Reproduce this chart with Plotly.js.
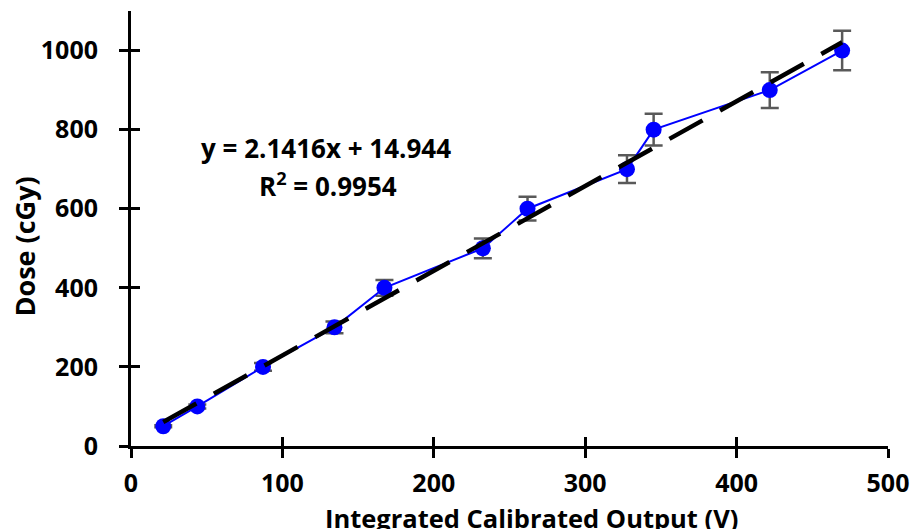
<!DOCTYPE html>
<html>
<head>
<meta charset="utf-8">
<script src="https://cdn.plot.ly/plotly-3.0.1.min.js"></script>
<style>html,body{margin:0;padding:0;background:#fff;}#chart{width:916px;height:529px;}</style>
</head>
<body>
<div id="chart"></div>
<script>
// Data
const outputV = [21.3, 43.8, 87.2, 134.4, 167.4, 232.4, 261.9, 327.6, 345.2, 421.9, 469.7];
const doseCGy = [50, 100, 200, 300, 400, 500, 600, 700, 800, 900, 1000];
const doseErr = [2.5, 5, 10, 15, 20, 25, 30, 35, 40, 45, 50];
const fitSlope = 2.1416;
const fitIntercept = 14.944;
const fitR2 = 0.9954;
const xTicks = [0, 100, 200, 300, 400, 500];
const yTicks = [0, 200, 400, 600, 800, 1000];
const xTitle = 'Integrated Calibrated Output (V)';
const yTitle = 'Dose (cGy)';

const fitX = [outputV[0], outputV[outputV.length - 1]];
const fitY = fitX.map(v => fitSlope * v + fitIntercept);

const FONT = '"Open Sans", "DejaVu Sans", sans-serif';

const data = [
  {x: [null], y: [null], xaxis: 'x2', yaxis: 'y2', showlegend: false, hoverinfo: 'skip', type: 'scatter', mode: 'markers'},
  {
    x: outputV, y: doseCGy, type: 'scatter', mode: 'lines+markers',
    line: {color: '#0000FF', width: 2},
    marker: {color: '#0000FF', size: 16},
    error_y: {type: 'data', array: doseErr, visible: true, color: '#595959', thickness: 2.5, width: 9},
    showlegend: false, hoverinfo: 'x+y'
  },
  {
    x: fitX, y: fitY, type: 'scatter', mode: 'lines',
    line: {color: '#000000', width: 4.5, dash: '38px,20px'},
    showlegend: false, hoverinfo: 'skip'
  }
];

const axisCommon = {
  showgrid: false, zeroline: false, showline: true,
  linecolor: '#000', linewidth: 3,
  ticks: 'outside', ticklen: 9, tickwidth: 3, tickcolor: '#000',
  tickfont: {family: FONT, size: 25, color: '#000', weight: 'bold'}
};

const layout = {
  width: 916, height: 529,
  margin: {l: 131, r: 28, t: 11, b: 83},
  paper_bgcolor: '#fff', plot_bgcolor: '#fff',
  font: {family: FONT, color: '#000'},
  xaxis: Object.assign({}, axisCommon, {
    range: [0, 500], tickvals: xTicks, ticktext: xTicks.map(String),
    ticklabelstandoff: 4
  }),
  yaxis: Object.assign({}, axisCommon, {
    range: [0, 1100], tickvals: yTicks, ticktext: yTicks.map(String),
    ticklabelstandoff: 16
  }),
  xaxis2: {overlaying: 'x', range: [0, 500], tickvals: xTicks, showticklabels: false, showgrid: false, zeroline: false,
    showline: false, ticks: 'inside', ticklen: 9, tickwidth: 3, tickcolor: '#000'},
  yaxis2: {overlaying: 'y', range: [0, 1100], tickvals: yTicks, showticklabels: false, showgrid: false, zeroline: false,
    showline: false, ticks: 'inside', ticklen: 9, tickwidth: 3, tickcolor: '#000'},
  annotations: [
    {xref: 'paper', yref: 'paper', x: 0.529, y: -0.1655, xanchor: 'center', yanchor: 'middle',
      text: xTitle, showarrow: false, font: {family: FONT, size: 25.5, color: '#000', weight: 'bold'}},
    {xref: 'paper', yref: 'paper', x: -0.1413, y: 0.4586, xanchor: 'center', yanchor: 'middle', textangle: -90,
      text: yTitle, showarrow: false, font: {family: FONT, size: 27, color: '#000', weight: 'bold'}},
    {xref: 'paper', yref: 'paper', x: 0.2576, y: 0.685, xanchor: 'center', yanchor: 'middle',
      text: 'y = ' + fitSlope + 'x + ' + fitIntercept, showarrow: false,
      font: {family: FONT, size: 26, color: '#000', weight: 'bold'}},
    {xref: 'paper', yref: 'paper', x: 0.260, y: 0.600, xanchor: 'center', yanchor: 'middle',
      text: 'R<sup>2</sup> = ' + fitR2, showarrow: false,
      font: {family: FONT, size: 26, color: '#000', weight: 'bold'}}
  ]
};

Plotly.newPlot('chart', data, layout, {displayModeBar: false, staticPlot: true});
</script>
</body>
</html>
